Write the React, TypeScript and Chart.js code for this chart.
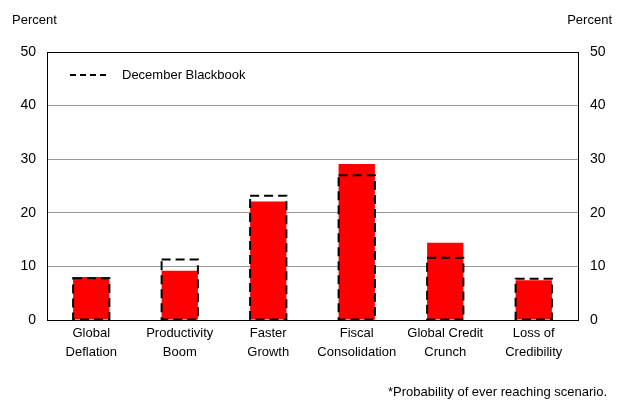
import React, { useEffect, useRef } from "react";
import { Chart, registerables } from "chart.js";

Chart.register(...registerables);

const categories: string[][] = [
  ["Global", "Deflation"],
  ["Productivity", "Boom"],
  ["Faster", "Growth"],
  ["Fiscal", "Consolidation"],
  ["Global Credit", "Crunch"],
  ["Loss of", "Credibility"],
];
const currentValues = [8.0, 9.2, 22.1, 29.1, 14.4, 7.4];
const blackbookValues = [7.8, 11.3, 23.2, 27.0, 11.6, 7.7];
const yMin = 0;
const yMax = 50;
const yStep = 10;
const legendLabel = "December Blackbook";
const axisTitle = "Percent";
const footnote = "*Probability of ever reaching scenario.";

const FONT = "'Liberation Sans', Arial, sans-serif";

const overlayPlugin = {
  id: "overlay",
  afterDatasetsDraw(chart: any) {
    const ctx = chart.ctx as CanvasRenderingContext2D;
    const meta = chart.getDatasetMeta(1);
    ctx.save();
    ctx.strokeStyle = "#000";
    ctx.lineWidth = 2;
    ctx.setLineDash([9, 5]);
    meta.data.forEach((bar: any) => {
      const p = bar.getProps(["x", "y", "base", "width"], true);
      ctx.strokeRect(p.x - p.width / 2, p.y, p.width, p.base - p.y);
    });
    ctx.restore();
  },
  afterDraw(chart: any) {
    const ctx = chart.ctx as CanvasRenderingContext2D;
    const area = chart.chartArea;
    ctx.save();
    // legend
    ctx.strokeStyle = "#000";
    ctx.lineWidth = 2;
    ctx.setLineDash([6, 4]);
    const ly = area.top + 23;
    ctx.beginPath();
    ctx.moveTo(area.left + 23, ly);
    ctx.lineTo(area.left + 61, ly);
    ctx.stroke();
    ctx.setLineDash([]);
    ctx.fillStyle = "#000";
    ctx.font = `13px ${FONT}`;
    ctx.textBaseline = "middle";
    ctx.textAlign = "left";
    ctx.fillText(legendLabel, area.left + 75, ly);
    // axis titles
    ctx.fillText(axisTitle, 12, 20);
    ctx.textAlign = "right";
    ctx.fillText(axisTitle, 612, 20);
    // footnote
    ctx.fillText(footnote, 607, 392);
    ctx.restore();
  },
};

export default function App() {
  const ref = useRef<HTMLCanvasElement | null>(null);
  useEffect(() => {
    document.body.style.margin = "0";
    const canvas = ref.current!;
    const chart = new Chart(canvas, {
      type: "bar",
      data: {
        labels: categories,
        datasets: [
          {
            label: "Current",
            data: currentValues,
            backgroundColor: "#FF0000",
            borderWidth: 0,
            grouped: false,
            categoryPercentage: 1,
            barPercentage: 0.41,
            order: 1,
          },
          {
            label: legendLabel,
            data: blackbookValues,
            backgroundColor: "rgba(0,0,0,0)",
            borderWidth: 0,
            grouped: false,
            categoryPercentage: 1,
            barPercentage: 0.41,
            order: 0,
          },
        ],
      } as any,
      options: {
        responsive: false,
        animation: false,
        layout: { padding: { top: 52, left: 0, right: 0, bottom: 0 } },
        plugins: { legend: { display: false }, tooltip: { enabled: false } },
        scales: {
          x: {
            grid: { display: false, drawTicks: false },
            border: { display: true, color: "#000", width: 1 },
            ticks: {
              color: "#000",
              font: { family: FONT, size: 13, lineHeight: 1.46 },
              padding: 4,
              maxRotation: 0,
              autoSkip: false,
            },
            afterFit: (s: any) => {
              s.height = 82;
            },
          },
          y: {
            position: "left",
            min: yMin,
            max: yMax,
            ticks: {
              stepSize: yStep,
              color: "#000",
              font: { family: FONT, size: 14 },
              padding: 11,
            },
            grid: {
              drawTicks: false,
              color: (c: any) =>
                c.tick && (c.tick.value === yMax || c.tick.value === yMin) ? "#000" : "#999",
              lineWidth: 1,
            },
            border: { display: true, color: "#000", width: 1 },
            afterFit: (s: any) => {
              s.width = 47;
            },
          },
          y2: {
            position: "right",
            min: yMin,
            max: yMax,
            ticks: {
              stepSize: yStep,
              color: "#000",
              font: { family: FONT, size: 14 },
              padding: 12,
            },
            grid: { display: false, drawTicks: false },
            border: { display: true, color: "#000", width: 1 },
            afterFit: (s: any) => {
              s.width = 42;
            },
          },
        },
      } as any,
      plugins: [overlayPlugin],
    });
    return () => chart.destroy();
  }, []);
  return (
    <canvas
      ref={ref}
      width={620}
      height={402}
      style={{ display: "block", width: 620, height: 402 }}
    />
  );
}
